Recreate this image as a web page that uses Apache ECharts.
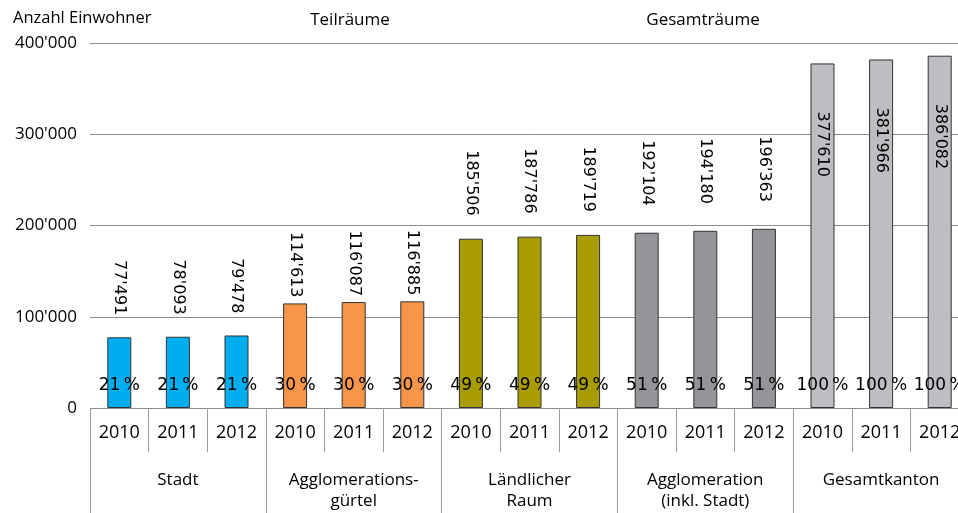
<!DOCTYPE html>
<html><head><meta charset="utf-8">
<script src="https://cdn.jsdelivr.net/npm/echarts@6/dist/echarts.min.js"></script>
<style>html,body{margin:0;padding:0;background:#fff;overflow:hidden;width:958px;height:513px}#c{width:975px;height:513px}</style>
</head><body><div id="c"></div>
<script>
const years = ['2010','2011','2012','2010','2011','2012','2010','2011','2012','2010','2011','2012','2010','2011','2012'];
const groups = ['Stadt','Agglomerations-\ngürtel','Ländlicher\nRaum','Agglomeration\n(inkl. Stadt)','Gesamtkanton'];
const population = [77491,78093,79478,114613,116087,116885,185506,187786,189719,192104,194180,196363,377610,381966,386082];
const sharePct = [21,21,21,30,30,30,49,49,49,51,51,51,100,100,100];
const yTicks = [0,100000,200000,300000,400000];

const groupColors = ['#00AEEF','#F7964B','#A99C00','#939598','#BDBEC2'];
const groupLabelStyle = [
  {position:'top', distance:22, align:'right'},
  {position:'top', distance:6, align:'right'},
  {position:'top', distance:23, align:'right'},
  {position:'top', distance:27, align:'right'},
  {position:'insideTop', distance:48, align:'left'}
];
const fmt = v => String(v).replace(/\B(?=(\d{3})+(?!\d))/g, "'");
const valFont = "'DejaVu Sans',sans-serif";
const axFont = "'Open Sans',sans-serif";

const mainData = population.map((v,i)=>{
  const g = Math.floor(i/3);
  const ls = groupLabelStyle[g];
  return {
    value: v,
    itemStyle: {color: groupColors[g]},
    label: {show:true, position: ls.position, distance: ls.distance, rotate:-90,
      align: ls.align, verticalAlign:'middle', formatter: p => fmt(p.value),
      fontFamily: valFont, fontSize:16, color:'#000'}
  };
});

const chart = echarts.init(document.getElementById('c'), null, {renderer:'canvas'});
chart.setOption({
  animation:false,
  grid:{left:90, top:43, width:879, bottom:105, containLabel:false},
  graphic:[
    {type:'text', left:13, top:10, style:{text:'Anzahl Einwohner', font:"16.5px 'Open Sans',sans-serif", fill:'#000'}},
    {type:'text', x:350, y:20, style:{text:'Teilräume', font:"17px 'Open Sans',sans-serif", fill:'#000', textAlign:'center', textVerticalAlign:'middle'}},
    {type:'text', x:703, y:20, style:{text:'Gesamträume', font:"17px 'Open Sans',sans-serif", fill:'#000', textAlign:'center', textVerticalAlign:'middle'}}
  ],
  xAxis:[
    {type:'category', data:years, position:'bottom', boundaryGap:true,
      axisLine:{show:false},
      axisTick:{show:true, interval:0, length:44, lineStyle:{color:'#9a9a9a', width:1}},
      axisLabel:{interval:0, margin:16, fontFamily:axFont, fontSize:18, color:'#000'}},
    {type:'category', data:groups, position:'bottom', offset:0, boundaryGap:true,
      axisLine:{show:false},
      axisTick:{show:true, interval:0, length:105, lineStyle:{color:'#9a9a9a', width:1}},
      axisLabel:{interval:0, margin:62, fontFamily:axFont, fontSize:17, lineHeight:21, color:'#000', verticalAlign:'top'}}
  ],
  yAxis:{type:'value', min:yTicks[0], max:yTicks[yTicks.length-1], interval:100000,
    axisLine:{show:false}, axisTick:{show:false},
    axisLabel:{formatter:v=>fmt(v), fontFamily:axFont, fontSize:17, color:'#000', margin:13},
    splitLine:{show:true, lineStyle:{color:'#8c8c8c', width:1}}},
  series:[
    {type:'bar', xAxisIndex:0, data:mainData, barWidth:24,
      itemStyle:{borderColor:'#333', borderWidth:1}, z:2},
    {type:'bar', xAxisIndex:0, data:population, barWidth:24, barGap:'-100%', silent:true,
      itemStyle:{color:'rgba(0,0,0,0)'}, z:3,
      label:{show:true, position:'insideBottom', distance:14,
        formatter:p=>sharePct[p.dataIndex]+'\u2009%', fontFamily:valFont, fontSize:17, color:'#000'}}
  ]
});
</script></body></html>
